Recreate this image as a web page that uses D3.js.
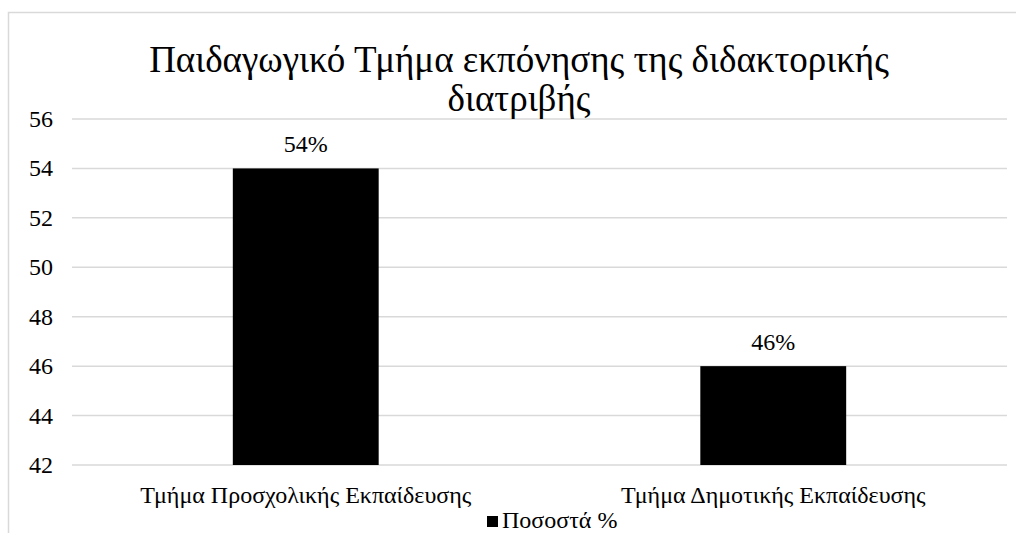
<!DOCTYPE html>
<html>
<head>
<meta charset="utf-8">
<script src="https://cdn.jsdelivr.net/npm/d3@7.9.0/dist/d3.min.js"></script>
<style>
  @font-face { font-family: 'ChartSerif'; src: local('Liberation Serif'), local('LiberationSerif'), local('Times New Roman'); }
  svg text { font-family: 'Liberation Serif', 'ChartSerif', 'Times New Roman' !important; }
</style>
</head>
<body style="margin:0">
<svg id="chart" width="1016" height="533" font-family="Liberation Serif"></svg>
<script>
// ---- data ----
const categories = ['Τμήμα Προσχολικής Εκπαίδευσης', 'Τμήμα Δημοτικής Εκπαίδευσης'];
const values = [54, 46];
const valueLabels = ['54%', '46%'];
const yTicks = [42, 44, 46, 48, 50, 52, 54, 56];
const titleLines = ['Παιδαγωγικό Τμήμα εκπόνησης της διδακτορικής', 'διατριβής'];
const seriesName = 'Ποσοστά %';

const svg = d3.select('#chart');

// chart frame (clipped by the window on right and bottom)
svg.append('rect')
    .attr('x', 8.5).attr('y', 12.5)
    .attr('width', 1200).attr('height', 700)
    .attr('fill', '#fff')
    .attr('stroke', '#d9d9d9')
    .attr('stroke-width', 1.5);

const plot = { left: 72, right: 1007, top: 119, bottom: 465 };

const x = d3.scaleBand()
    .domain(categories)
    .range([plot.left, plot.right])
    .paddingInner(0.688)
    .paddingOuter(0.344);

const y = d3.scaleLinear()
    .domain([42, 56])
    .range([plot.bottom, plot.top]);

// gridlines
svg.append('g')
    .selectAll('line')
    .data(yTicks)
    .join('line')
    .attr('x1', plot.left).attr('x2', plot.right)
    .attr('y1', d => y(d)).attr('y2', d => y(d))
    .attr('stroke', '#d9d9d9')
    .attr('stroke-width', 1.5);

// every text element gets the serif face inline, marked important
function addText(parent, size) {
    const t = parent.append('text')
        .attr('font-size', size)
        .attr('font-family', 'Liberation Serif')
        .attr('fill', '#000');
    t.node().style.setProperty('font-family', '"Liberation Serif", "ChartSerif", "Times New Roman"', 'important');
    return t;
}

// y tick labels
const yAxis = svg.append('g');
yTicks.forEach(t => {
    addText(yAxis, 24)
        .attr('x', 53)
        .attr('y', y(t) + 8)
        .attr('text-anchor', 'end')
        .text(t);
});

// bars
const data = categories.map((c, i) => ({ c, v: values[i], label: valueLabels[i] }));

svg.append('g')
    .selectAll('rect')
    .data(data)
    .join('rect')
    .attr('x', d => x(d.c))
    .attr('y', d => y(d.v))
    .attr('width', x.bandwidth())
    .attr('height', d => y(42) - y(d.v))
    .attr('fill', '#000');

// value labels and category labels
const labels = svg.append('g');
data.forEach(d => {
    const cx = x(d.c) + x.bandwidth() / 2;
    addText(labels, 24)
        .attr('x', cx)
        .attr('y', y(d.v) - 16)
        .attr('text-anchor', 'middle')
        .text(d.label);
    addText(labels, 24)
        .attr('x', cx)
        .attr('y', 503)
        .attr('text-anchor', 'middle')
        .text(d.c);
});

// title
addText(svg, 37)
    .attr('x', 519).attr('y', 72)
    .attr('text-anchor', 'middle')
    .text(titleLines[0]);
addText(svg, 37)
    .attr('x', 519).attr('y', 111)
    .attr('text-anchor', 'middle')
    .text(titleLines[1]);

// legend
const legend = svg.append('g').attr('transform', 'translate(487,516)');
legend.append('rect')
    .attr('width', 11).attr('height', 11)
    .attr('fill', '#000');
addText(legend, 24)
    .attr('x', 15).attr('y', 12)
    .text(seriesName);
</script>
</body>
</html>
